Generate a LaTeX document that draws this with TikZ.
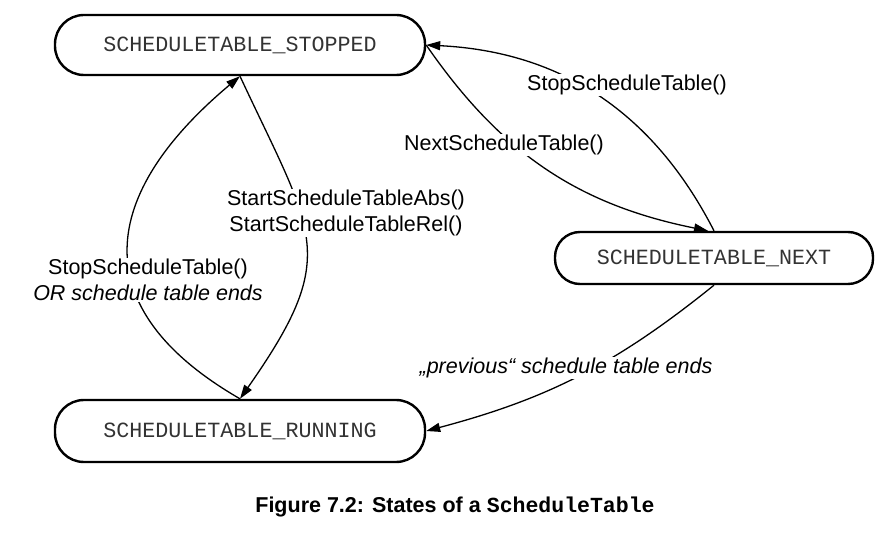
\documentclass[tikz,border=0pt]{standalone}
\usepackage{fontspec}
\setmainfont{Liberation Sans}
\setmonofont{Liberation Mono}
\usetikzlibrary{arrows.meta}

\begin{document}
\begin{tikzpicture}[x=1pt, y=-1pt, >={Triangle[length=14pt, width=9pt]}, line width=1.3pt,
    state/.style={draw, line width=2.4pt, rounded corners=29pt, minimum height=60pt,
        font=\fontsize{21.7}{26}\ttfamily, text=black!80},
    trans/.style={fill=white, inner sep=1pt, align=center, font=\fontsize{21.5}{26}\selectfont}]
    \useasboundingbox (0,0) rectangle (892,540);
    \node[state, minimum width=370pt] (stopped) at (240,45) {SCHEDULETABLE\_STOPPED};
    \node[state, minimum width=318pt, minimum height=52pt, rounded corners=25pt] (next) at (714,258) {SCHEDULETABLE\_NEXT};
    \node[state, minimum width=370pt, minimum height=62pt] (running) at (240,431) {SCHEDULETABLE\_RUNNING};
    \path[->] (next.north) edge[bend right=30] (stopped.east)
              (stopped.east) edge[bend right=22] ([xshift=-6pt]next.north)
              (stopped.south) edge[out=-65, in=55, looseness=1.4] (running.north)
              (running.north) edge[out=150, in=-140, looseness=1.45] (stopped.south)
              (next.south) edge[bend left=12] (running.east);
    \node[trans] (stoplbl) at (627,85) {StopScheduleTable()};
    \node[trans] (nextlbl) at (504,145) {NextScheduleTable()};
    \node[trans] (startlbl) at (346,213) {StartScheduleTableAbs()\\StartScheduleTableRel()};
    \node[trans] (endlbl) at (148,280) {StopScheduleTable()\\\textit{OR schedule table ends}};
    \node[trans] (prevlbl) at (566,368) {\textit{„previous“ schedule table ends}};
    \node[font=\fontsize{21.5}{26}\bfseries] (caption) at (455,507) {Figure 7.2: States of a \texttt{ScheduleTable}};
\end{tikzpicture}
\end{document}
